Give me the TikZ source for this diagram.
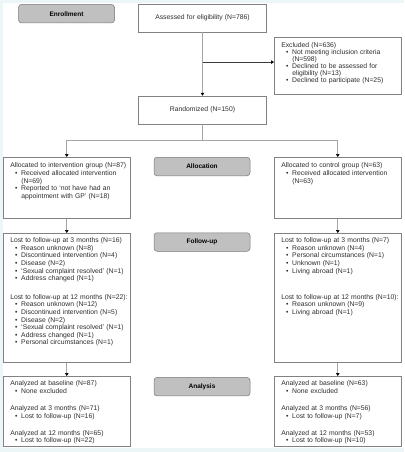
\documentclass[tikz,border=0pt]{standalone}
\usepackage{fontspec}
\setmainfont{Liberation Sans}
\usetikzlibrary{arrows.meta,calc}
\definecolor{bgcyan}{RGB}{236,246,246}
\definecolor{boxgray}{RGB}{130,130,130}
\definecolor{stagefill}{RGB}{192,192,192}
\definecolor{stageborder}{RGB}{120,120,120}
\definecolor{linegray}{RGB}{165,165,165}
\definecolor{linedark}{RGB}{60,60,60}
\definecolor{txtcol}{RGB}{45,45,45}
\newcommand{\txt}{\fontsize{6.8pt}{7.6pt}\selectfont\spaceskip=2.2pt\relax\color{txtcol}}
\newcommand{\stg}{\fontsize{6.5pt}{7.6pt}\selectfont\bfseries\color{black}}
\newcommand{\bi}{\\\hspace*{4.8pt}\makebox[6.2pt][l]{\textbullet}}
\newcommand{\ci}{\\\hspace*{11pt}}
\newcommand{\fl}[1]{\rule{0pt}{#1}}
\newcommand{\boxtext}[4]{\parbox[b][#1][t]{113pt}{\fontsize{6.8pt}{#2}\selectfont\spaceskip=2.2pt\relax\renewcommand{\arraystretch}{1}\begin{tabular}[t]{@{}l@{}}\fl{#3}#4\end{tabular}}}
\tikzset{
  box/.style={draw=boxgray, line width=0.5pt, fill=white, inner xsep=7pt, inner ysep=0pt, anchor=north west, font=\txt},
  plainbox/.style={draw=boxgray, line width=0.5pt, fill=white, minimum width=128pt, minimum height=28pt, inner sep=0pt, font=\txt},
  stage/.style={draw=stageborder, fill=stagefill, rounded corners=3pt, line width=0.5pt, minimum width=96pt, minimum height=18.5pt, inner sep=0pt, font=\stg},
  conn/.style={draw=linegray, line width=0.6pt},
  arr/.style={-{Triangle[length=3pt,width=3.5pt,color=black]}}
}
\begin{document}
\begin{tikzpicture}[x=1pt,y=1pt]
\fill[bgcyan] (0,0) rectangle (404,-452);
\fill[white] (3,-3.5) rectangle (404,-448);
\useasboundingbox (0,0) rectangle (404,-452);

% stage labels
\node[stage] (enr) at (66.5,-13.7) {Enrollment};
\node[stage] (alloc) at (202,-166.5) {Allocation};
\node[stage] (fup) at (202,-242) {Follow-up};
\node[stage] (anal) at (202,-386.7) {Analysis};

% enrollment
\node[plainbox] (assess) at (202.5,-18) {Assessed for eligibility (N=786)};
\node[plainbox] (rand) at (202.5,-110) {Randomized (N=150)};
\node[box] (excl) at (274,-37.3) {\boxtext{56.7pt}{7pt}{10pt}{Excluded (N=636)\bi Not meeting inclusion criteria\ci (N=598)\bi Declined to be assessed for\ci eligibility (N=13)\bi Declined to participate (N=25)}};

% allocation
\node[box] (la) at (3,-157) {\boxtext{61pt}{7.8pt}{10.3pt}{Allocated to intervention group (N=87)\bi Received allocated intervention\ci (N=69)\bi Reported to `not have had an\ci appointment with GP' (N=18)}};
\node[box] (ra) at (274,-157) {\boxtext{61pt}{7.8pt}{10.3pt}{Allocated to control group (N=63)\bi Received allocated intervention\ci (N=63)}};

% follow-up
\node[box] (lf) at (3,-233) {\boxtext{129pt}{7.6pt}{9.4pt}{Lost to follow-up at 3 months (N=16)\bi Reason unknown (N=8)\bi Discontinued intervention (N=4)\bi Disease (N=2)\bi `Sexual complaint resolved' (N=1)\bi Address changed (N=1)\\[11pt]
Lost to follow-up at 12 months (N=22):\bi Reason unknown (N=12)\bi Discontinued intervention (N=5)\bi Disease (N=2)\bi `Sexual complaint resolved' (N=1)\bi Address changed (N=1)\bi Personal circumstances (N=1)}};
\node[box] (rf) at (274,-233) {\boxtext{129pt}{7.6pt}{9.4pt}{Lost to follow-up at 3 months (N=7)\bi Reason unknown (N=4)\bi Personal circumstances (N=1)\bi Unknown (N=1)\bi Living abroad (N=1)\\[18.6pt]
Lost to follow-up at 12 months (N=10):\bi Reason unknown (N=9)\bi Living abroad (N=1)}};

% analysis
\node[box] (lan) at (3,-376) {\boxtext{70pt}{7.3pt}{9.6pt}{Analyzed at baseline (N=87)\bi None excluded\\[10.3pt]
Analyzed at 3 months (N=71)\bi Lost to follow-up (N=16)\\[10.3pt]
Analyzed at 12 months (N=65)\bi Lost to follow-up (N=22)}};
\node[box] (ran) at (274,-376) {\boxtext{70pt}{7.3pt}{9.6pt}{Analyzed at baseline (N=63)\bi None excluded\\[10.3pt]
Analyzed at 3 months (N=56)\bi Lost to follow-up (N=7)\\[10.3pt]
Analyzed at 12 months (N=53)\bi Lost to follow-up (N=10)}};

% connectors
\draw[conn,arr] (assess.south) -- (rand.north);
\coordinate (br) at ($(assess.south)!0.47!(rand.north)$);
\draw[draw=linedark, line width=0.6pt, arr] (br) -- (br -| excl.west);
\draw[conn] (rand.south) -- ++(0,-16) coordinate (split);
\draw[conn,arr] (split) -| (la.north);
\draw[conn,arr] (split) -| (ra.north);
\draw[conn,arr] (la.south) -- (lf.north);
\draw[conn,arr] (ra.south) -- (rf.north);
\draw[conn,arr] (lf.south) -- (lan.north);
\draw[conn,arr] (rf.south) -- (ran.north);
\end{tikzpicture}
\end{document}
